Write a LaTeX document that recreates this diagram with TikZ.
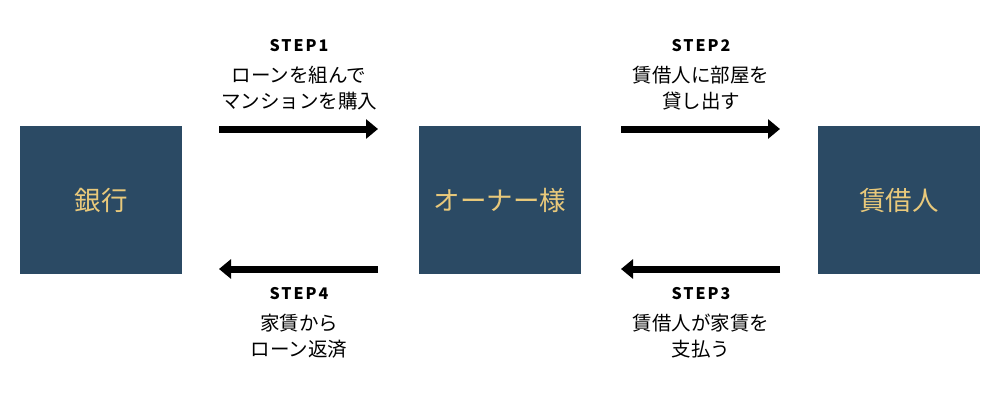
\documentclass[tikz,border=0pt]{standalone}
\usepackage{fontspec}
\setmainfont{Noto Sans CJK JP}
\newfontfamily\stepfont[LetterSpace=12]{Noto Sans CJK JP}
\usetikzlibrary{arrows.meta,calc}
\definecolor{boxblue}{HTML}{2B4A64}
\definecolor{boxtext}{HTML}{E9C97B}
\tikzset{
  party/.style={fill=boxblue, minimum width=162pt, minimum height=148pt, inner sep=0pt,
    text=boxtext, font=\fontsize{26.5}{30}\selectfont},
  flow/.style={line width=7pt, -{Triangle[length=12pt,width=19pt]}},
  steplabel/.style={font=\stepfont\bfseries\fontsize{16}{18}\selectfont, inner sep=0pt},
  desc/.style={font=\fontsize{19.5}{26}\selectfont, align=center, inner sep=0pt}
}
\begin{document}
\begin{tikzpicture}[x=1pt,y=1pt]
\useasboundingbox (0,0) rectangle (1000,400);
\node[party] (bank) at (101,200) {銀行};
\node[party] (owner) at (500,200) {オーナー様};
\node[party] (tenant) at (899,200) {賃借人};
% arrow endpoints
\coordinate (a1s) at (219,271);
\coordinate (a1e) at (378,271);
\coordinate (a2s) at (621,271);
\coordinate (a2e) at (780,271);
\coordinate (a3s) at (780,131);
\coordinate (a3e) at (621,131);
\coordinate (a4s) at (378,131);
\coordinate (a4e) at (219,131);
\draw[flow] (a1s) -- (a1e);
\draw[flow] (a2s) -- (a2e);
\draw[flow] (a3s) -- (a3e);
\draw[flow] (a4s) -- (a4e);
% labels
\node[steplabel] (s1) at (299,354) {STEP1};
\node[desc] (d1) at (299,312) {ローンを組んで\\マンションを購入};
\node[steplabel] (s2) at (701,354) {STEP2};
\node[desc] (d2) at (701,312) {賃借人に部屋を\\貸し出す};
\node[steplabel] (s3) at (701,106) {STEP3};
\node[desc] (d3) at (701,64) {賃借人が家賃を\\支払う};
\node[steplabel] (s4) at (299,106) {STEP4};
\node[desc] (d4) at (299,64) {家賃から\\ローン返済};
\end{tikzpicture}
\end{document}
